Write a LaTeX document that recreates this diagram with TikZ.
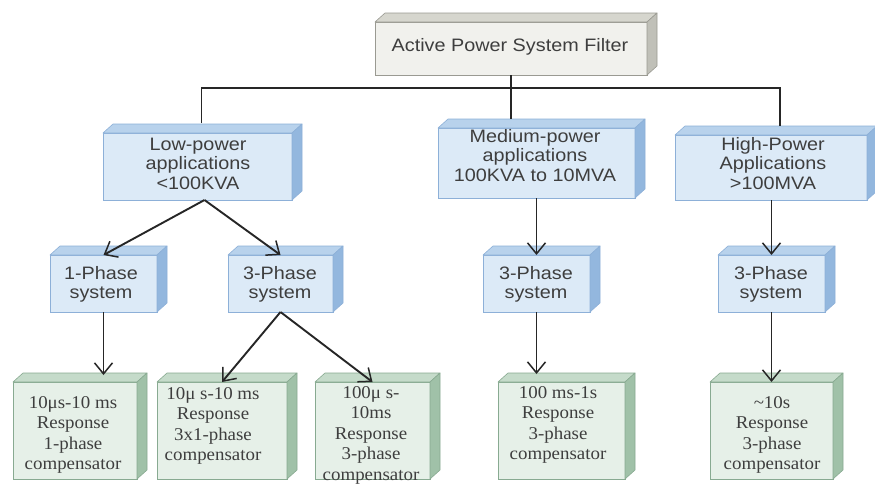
\documentclass[tikz,border=0pt]{standalone}
\usepackage{fontspec}
\setmainfont{Liberation Serif}
\setsansfont{Liberation Sans}
\usetikzlibrary{arrows.meta,calc}
\definecolor{bfront}{HTML}{DCEAF7}
\definecolor{btop}{HTML}{B8D2EC}
\definecolor{bside}{HTML}{93B7DE}
\definecolor{bedge}{HTML}{8DB0D8}
\definecolor{gfront}{HTML}{E6F0E8}
\definecolor{gtop}{HTML}{C5DBCA}
\definecolor{gside}{HTML}{A0C1A8}
\definecolor{gedge}{HTML}{88AA91}
\definecolor{kfront}{HTML}{F1F1ED}
\definecolor{ktop}{HTML}{D6D6CE}
\definecolor{kside}{HTML}{C0C0B8}
\definecolor{kedge}{HTML}{9A9A92}
\definecolor{txtgray}{HTML}{3E3E3E}
\definecolor{linec}{HTML}{262626}
\newcommand\stx[2][1.1]{\scalebox{#1}[1]{\begin{tabular}{@{}c@{}}#2\end{tabular}}}
% 3D box: name, cx, cy, w, h, scheme letter (b/g/k)
\newcommand\cubebox[6]{%
  \node[draw=#6edge, fill=#6front, line width=0.9pt, outer sep=0pt, inner sep=0pt,
        minimum width=#4pt, minimum height=#5pt] (#1) at (#2,#3) {};
  \filldraw[fill=#6top, draw=#6edge, line width=0.6pt, line join=round]
     (#1.north west) -- ++(10,-9) -- ([xshift=10pt,yshift=9pt]#1.north east) -- (#1.north east) -- cycle;
  \filldraw[fill=#6side, draw=#6edge, line width=0.6pt, line join=round]
     (#1.north east) -- ([xshift=10pt,yshift=9pt]#1.north east) -- ([xshift=10pt,yshift=9pt]#1.south east) -- (#1.south east) -- cycle;
}
\tikzset{
  sanst/.style={font=\fontsize{18}{19.5}\selectfont\sffamily, text=txtgray, inner sep=0pt},
  serift/.style={font=\fontsize{18}{20.5}\selectfont\rmfamily, text=txtgray, inner sep=0pt},
  conn/.style={draw=linec, line width=1.9pt},
  arr/.style={conn, -{Straight Barb[length=11pt,width=18pt,line width=1.5pt]}}
}
\begin{document}
\begin{tikzpicture}[x=1pt,y=-1pt]
\fill[white] (0,0) rectangle (875,483);
\useasboundingbox (0,0) rectangle (875,483);

% boxes
\cubebox{top}{511}{48.5}{272}{53}{k}
\cubebox{low}{197.5}{166.5}{189}{67}{b}
\cubebox{mid}{536.5}{163}{197}{70}{b}
\cubebox{high}{771}{167.5}{192}{65}{b}
\cubebox{pA}{103.5}{283.5}{107}{57}{b}
\cubebox{pB}{280.5}{283.5}{105}{57}{b}
\cubebox{pC}{536.5}{283.5}{107}{57}{b}
\cubebox{pD}{771.5}{283.5}{107}{57}{b}
\cubebox{bA}{75}{430.5}{124}{97}{g}
\cubebox{bB}{222}{430.5}{130}{97}{g}
\cubebox{bC}{372.5}{430.5}{115}{97}{g}
\cubebox{bD}{561.5}{430.5}{127}{97}{g}
\cubebox{bE}{771.5}{430.5}{123}{97}{g}

% texts
\node[sanst] (ttop) at (510,48) {\stx{Active Power System Filter}};
\node[sanst] (tlow) at (198,166) {\stx{Low-power\\applications\\<100KVA}};
\node[sanst] (tmid) at (535,158) {\stx{Medium-power\\applications\\100KVA to 10MVA}};
\node[sanst] (thigh) at (773,166) {\stx{High-Power\\Applications\\>100MVA}};
\node[sanst] (tpA) at (101,285) {\stx{1-Phase\\system}};
\node[sanst] (tpB) at (280,285) {\stx{3-Phase\\system}};
\node[sanst] (tpC) at (536,285) {\stx{3-Phase\\system}};
\node[sanst] (tpD) at (771,285) {\stx{3-Phase\\system}};
\node[serift] (tbA) at (73,435) {\stx[1.05]{10μs-10 ms\\Response\\1-phase\\compensator}};
\node[serift] (tbB) at (213,426) {\stx[1.05]{10μ s-10 ms\\Response\\3x1-phase\\compensator}};
\node[serift] (tbC) at (371,435) {\stx[1.05]{100μ s-\\10ms\\Response\\3-phase\\compensator}};
\node[serift] (tbD) at (558,425) {\stx[1.05]{100 ms-1s\\Response\\3-phase\\compensator}};
\node[serift] (tbE) at (772,435) {\stx[1.05]{\textasciitilde10s\\Response\\3-phase\\compensator}};

% tree connectors
\coordinate (bus) at (0,88);
\coordinate (lowT) at ([xshift=4pt,yshift=10pt]low.north);
\coordinate (midT) at ([yshift=9pt]mid.north);
\coordinate (highT) at ([xshift=9pt,yshift=9pt]high.north);
\draw[conn] (top.south) -- (top.south |- midT);
\draw[conn] (lowT) -- (lowT |- bus) -- (highT |- bus) -- (highT);

% arrows
\coordinate (lowS) at ([xshift=7pt]low.south);
\draw[arr] (lowS) -- (pA.north);
\draw[arr] (lowS) -- (pB.north);
\draw[arr] (mid.south) -- (pC.north);
\draw[arr] (high.south -| pD.north) -- (pD.north);
\coordinate (bAT) at ([yshift=7pt]bA.north);
\coordinate (bDT) at ([yshift=8pt]bD.north);
\draw[arr] (pA.south) -- (pA.south |- bAT);
\draw[arr] (pB.south) -- (bB.north);
\draw[arr] (pB.south) -- (bC.north);
\draw[arr] (pC.south) -- (pC.south |- bDT);
\draw[arr] (pD.south) -- (bE.north);
\end{tikzpicture}
\end{document}
